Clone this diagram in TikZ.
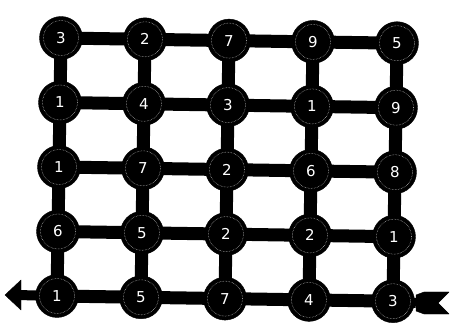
\documentclass[tikz,border=0pt]{standalone}
\usepackage{fontspec}
\setmainfont{DejaVu Sans}
\usetikzlibrary{backgrounds}
\begin{document}
\begin{tikzpicture}[x=1pt,y=-1pt,
  cell/.style={circle,fill=black,draw=black,minimum size=43pt,inner sep=0pt,
    text=white,font=\fontsize{15}{15}\selectfont},
  ring/.style={draw=white!80!black,line width=0.5pt,densely dotted},
  link/.style={line width=13pt,draw=black},
  tipfill/.style={fill=black,draw=black,line join=round}]
\useasboundingbox (0,0) rectangle (450,323);
\def\vals{{{3,2,7,9,5},{1,4,3,1,9},{1,7,2,6,8},{6,5,2,2,1},{1,5,7,4,3}}}
% cells
\foreach \j in {0,...,4}{
  \foreach \i in {0,...,4}{
    \pgfmathsetmacro{\xx}{61+84*\i-1*\j}
    \pgfmathsetmacro{\yy}{38+64.5*\j+1.3*\i}
    \pgfmathtruncatemacro{\v}{\vals[\j][\i]}
    \node[cell] (n-\j-\i) at (\xx,\yy) {\v};
    \draw[ring] (n-\j-\i.center) circle (17.5pt);
  }
}
\begin{scope}[on background layer]
% arrow shaft and ends
\coordinate (tipL) at (5,295);
\coordinate (tail) at (416,303);
\draw[link,line width=10pt] (tipL) ++(12,0) -- (n-4-0.center);
\draw[link,line width=10pt] (n-4-4.center) -- (tail);
\fill[tipfill] (tipL) -- (21,280) -- (21,310) -- cycle;
\fill[tipfill] (tail) -- ++(0,-8) -- (424,292) -- (449,292) -- (438,303) -- (449,314) -- (424,314) -- (416,311) -- cycle;
% links
\foreach \j in {0,...,4}{
  \foreach \i [evaluate=\i as \n using int(\i+1)] in {0,...,3}{
    \draw[link] (n-\j-\i.center) -- (n-\j-\n.center);
  }
}
\foreach \i in {0,...,4}{
  \foreach \j [evaluate=\j as \n using int(\j+1)] in {0,...,3}{
    \draw[link] (n-\j-\i.center) -- (n-\n-\i.center);
  }
}
\end{scope}
\end{tikzpicture}
\end{document}
